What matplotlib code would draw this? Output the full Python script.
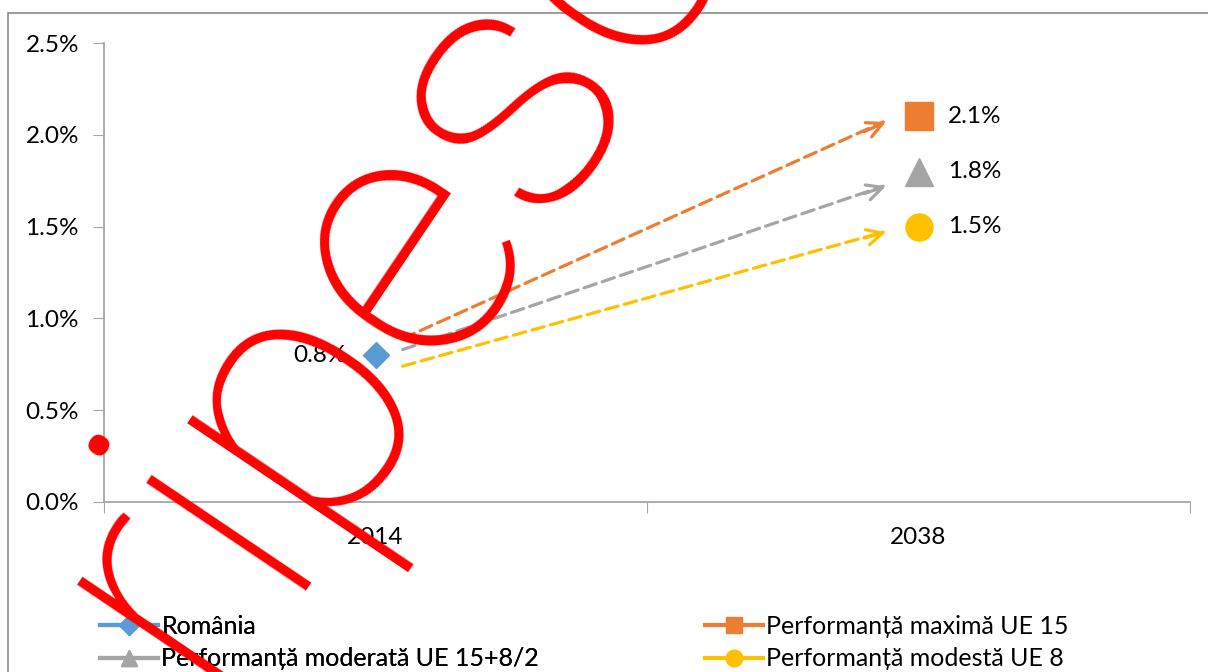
import matplotlib
matplotlib.use("Agg")
import matplotlib.pyplot as plt
from matplotlib.lines import Line2D
from matplotlib.patches import Rectangle

plt.rcParams['font.family'] = ['Lato', 'DejaVu Sans']

# data
years = ["2014", "2038"]
romania = [0.8]
scenarii = ["Performanță maximă UE 15", "Performanță moderată UE 15+8/2", "Performanță modestă UE 8"]
valori_2038 = [2.1, 1.8, 1.5]
culori = ["#ED7D31", "#A5A5A5", "#FFC000"]
markere = ["s", "^", "o"]
# arrow start / end values (%)
sageti_start = [0.89, 0.83, 0.74]
sageti_end = [2.07, 1.72, 1.47]
yticks = [0.0, 0.5, 1.0, 1.5, 2.0, 2.5]

fig = plt.figure(figsize=(12.08, 6.72), dpi=100)
ax = fig.add_axes([104/1208, 1-502/672, (1190-104)/1208, (502-43)/672])

# outer chart frame (cut at right and bottom)
fig.patches.append(Rectangle((8/1208, -0.1), 1.2, 1.1-13/672, transform=fig.transFigure,
                             fill=False, ec="#8a8a8a", lw=1.2))

ax.plot([0], romania, ls="none", marker="D", ms=13.5, color="#5B9BD5", zorder=5)
ax.annotate("%.1f%%" % romania[0], (0, romania[0]), xytext=(-21, 0), textcoords="offset points",
            ha="right", va="center", fontsize=17.5)
for v, c, m in zip(valori_2038, culori, markere):
    ax.plot([1], [v], ls="none", marker=m, ms=19.5, color=c, zorder=5)
    ax.annotate("%.1f%%" % v, (1, v), xytext=(21, 0), textcoords="offset points",
                ha="left", va="center", fontsize=17.5)

for s, e, c in zip(sageti_start, sageti_end, culori):
    ax.annotate("", xy=(0.935, e), xytext=(0.05, s),
                arrowprops=dict(arrowstyle="-", ls=(0, (4, 2)), lw=2.3, color=c, shrinkA=0, shrinkB=0))
    ax.annotate("", xy=(0.94, e), xytext=(0.90, s + (e - s) * 0.955),
                arrowprops=dict(arrowstyle="->", lw=2.3, color=c, mutation_scale=28, shrinkA=0, shrinkB=0))

ax.set_xlim(-0.5, 1.5)
ax.set_ylim(0, 2.5)
ax.set_yticks(yticks)
ax.set_yticklabels(["%.1f%%" % t for t in yticks], fontsize=17.5)
ax.set_xticks([-0.5, 0.5, 1.5])
ax.set_xticklabels([])
ax.set_xticks([0, 1], minor=True)
ax.set_xticklabels(years, minor=True, fontsize=17.5)
ax.tick_params(axis="x", which="minor", length=0, pad=18)
ax.tick_params(axis="x", which="major", length=8, color="#a6a6a6")
ax.tick_params(axis="y", length=8, color="#a6a6a6", pad=10)
for sp in ["top", "right"]:
    ax.spines[sp].set_visible(False)
for sp in ["left", "bottom"]:
    ax.spines[sp].set_color("#a6a6a6")
    ax.spines[sp].set_linewidth(1.3)

def handle(c, m, ms):
    return Line2D([], [], color=c, lw=3, marker=m, ms=ms)

h_ro = handle("#5B9BD5", "D", 10)
hs = [handle(c, m, 12) for c, m in zip(culori, markere)]
leg_kw = dict(loc="upper left", frameon=False, fontsize=18, handlelength=2.3, handletextpad=0.15,
              labelspacing=0.38, borderpad=0, borderaxespad=0)
leg1 = fig.legend([h_ro, hs[1]], ["România", scenarii[1]],
                  bbox_to_anchor=(100/1208, 1-615/672), **leg_kw)
leg2 = fig.legend([hs[0], hs[2]], [scenarii[0], scenarii[2]],
                  bbox_to_anchor=(705/1208, 1-615/672), **leg_kw)
fig.add_artist(leg1)

# watermark
fig.text(207/1208, 1-692/672, "ripesc", family="Roboto", weight=100, fontsize=262,
         color="red", rotation=56, rotation_mode="anchor", ha="left", va="baseline", zorder=20)

fig.savefig("out.png", dpi=100)
